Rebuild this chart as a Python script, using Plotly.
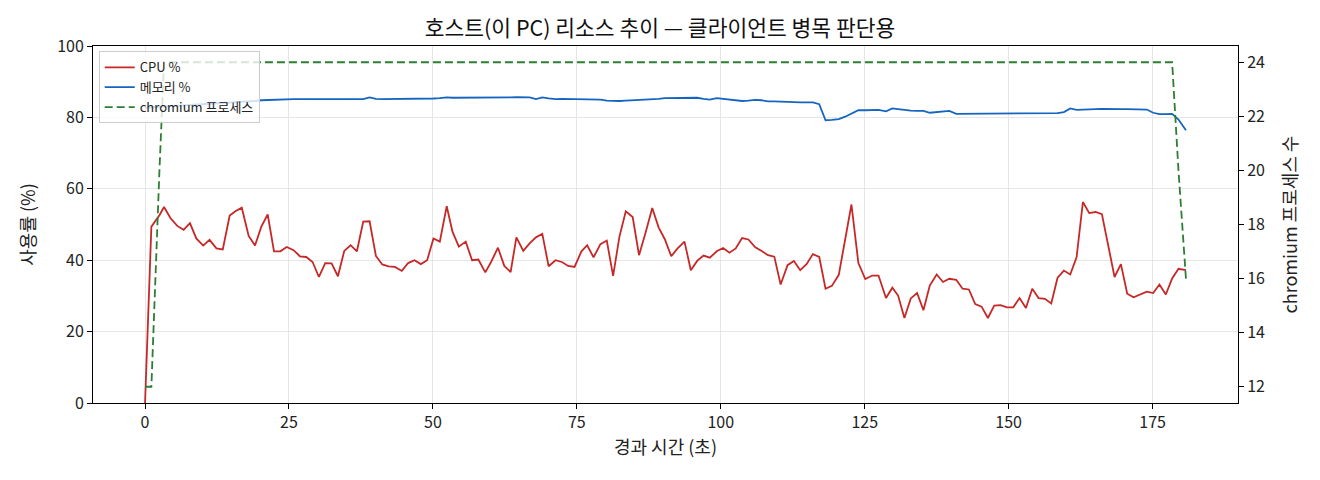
import plotly.graph_objects as go

# elapsed time (s)
t_sec = [0.0, 1.1, 2.5, 3.3, 4.4, 5.6, 6.7, 7.8, 8.9, 10.1, 11.2, 12.4, 13.5, 14.7, 15.7, 16.8,
         18.0, 19.1, 20.2, 21.3, 22.4, 23.5, 24.6, 25.8, 26.9, 28.0, 29.1, 30.2, 31.3, 32.4,
         33.5, 34.6, 35.7, 36.8, 37.9, 39.0, 40.1, 41.2, 42.3, 43.4, 44.6, 45.7, 46.8, 47.9,
         49.0, 50.1, 51.2, 52.4, 53.4, 54.5, 55.7, 56.8, 57.9, 59.1, 60.1, 61.3, 62.4, 63.5,
         64.5, 65.7, 66.8, 67.9, 69.0, 70.1, 71.3, 72.4, 73.5, 74.6, 75.8, 76.8, 77.9, 79.1,
         80.2, 81.3, 82.4, 83.5, 84.7, 85.8, 86.9, 88.1, 89.2, 90.3, 91.4, 92.5, 93.7, 94.8,
         95.9, 97.0, 98.1, 99.3, 100.4, 101.5, 102.6, 103.7, 104.8, 106.0, 107.1, 108.2, 109.3,
         110.4, 111.6, 112.7, 113.8, 114.9, 116.0, 117.1, 118.2, 119.3, 120.5, 121.6, 122.7,
         123.9, 125.1, 126.3, 127.4, 128.7, 129.8, 130.8, 131.9, 133.0, 134.1, 135.2, 136.3,
         137.5, 138.6, 139.7, 140.9, 142.0, 143.1, 144.2, 145.3, 146.4, 147.5, 148.6, 149.7,
         150.8, 151.9, 153.0, 154.1, 155.2, 156.3, 157.4, 158.5, 159.6, 160.7, 161.8, 162.9,
         164.0, 165.1, 166.2, 167.3, 168.4, 169.5, 170.6, 171.7, 172.9, 174.0, 175.1, 176.2,
         177.3, 178.4, 179.5, 180.8]

cpu = [0.0, 49.4, 52.6, 54.9, 51.8, 49.6, 48.5, 50.4, 46.1, 44.1, 45.7, 43.3, 43.0, 52.5, 53.7, 54.7,
       46.8, 44.1, 49.4, 52.8, 42.5, 42.5, 43.7, 42.8, 41.1, 40.9, 39.5, 35.3, 39.2, 39.1,
       35.5, 42.6, 44.2, 42.5, 50.8, 50.9, 41.2, 38.8, 38.3, 38.1, 37.0, 39.2, 40.0, 38.9,
       40.0, 46.1, 45.2, 55.1, 48.0, 43.8, 45.2, 40.0, 40.2, 36.6, 39.5, 43.5, 38.4, 36.7,
       46.4, 42.6, 44.7, 46.4, 47.4, 38.3, 40.0, 39.5, 38.4, 38.1, 42.5, 44.2, 40.8, 44.5,
       45.5, 35.6, 46.6, 53.7, 52.1, 41.4, 47.5, 54.6, 49.2, 45.8, 41.1, 43.3, 45.2, 37.2,
       39.8, 41.3, 40.7, 42.5, 43.4, 42.1, 43.3, 46.2, 45.8, 43.6, 42.6, 41.4, 41.0,
       33.2, 38.6, 39.8, 37.2, 38.9, 41.7, 40.9, 32.0, 32.8, 35.9, 46.1, 55.6,
       39.2, 34.7, 35.7, 35.7, 29.4, 32.3, 30.1, 23.8, 29.3, 30.8, 26.0, 32.9,
       36.0, 33.9, 34.8, 34.5, 32.0, 31.8, 27.7, 27.0, 23.8, 27.3, 27.4, 26.8,
       26.8, 29.4, 26.6, 32.0, 29.4, 29.2, 27.9, 35.1, 37.1, 36.0, 40.8, 56.3,
       53.2, 53.5, 52.9, 43.8, 35.3, 38.9, 30.6, 29.6, 30.4, 31.2, 30.8, 33.2,
       30.4, 34.9, 37.6, 37.2]

mem = [82.7, 82.8, 82.9, 83.0, 83.1, 83.2, 83.3, 83.4, 83.6, 83.6, 83.7, 83.8, 83.9, 84.0, 84.1, 84.3,
       84.4, 84.6, 84.8, 84.9, 85.0, 85.0, 85.1, 85.1, 85.1, 85.1, 85.1, 85.1, 85.0, 85.0,
       84.9, 85.0, 85.1, 85.1, 85.1, 85.6, 85.2, 85.1, 85.1, 85.1, 85.1, 85.1, 85.1, 85.2,
       85.2, 85.3, 85.4, 85.6, 85.5, 85.5, 85.5, 85.5, 85.5, 85.4, 85.4, 85.5, 85.5, 85.6,
       85.7, 85.6, 85.6, 85.1, 85.6, 85.3, 85.1, 85.2, 85.2, 85.2, 85.2, 85.1, 85.0, 85.0,
       84.7, 84.6, 84.6, 84.7, 84.8, 84.8, 84.8, 84.9, 85.2, 85.4, 85.4, 85.5, 85.5, 85.5,
       85.5, 85.2, 85.0, 85.4, 85.2, 84.8, 84.7, 84.6, 84.7, 84.9, 84.8, 84.5, 84.5,
       84.5, 84.3, 84.3, 84.2, 84.2, 84.2, 83.7, 79.2, 79.3, 79.5, 80.2, 81.1,
       82.0, 82.0, 82.1, 82.1, 81.7, 82.5, 82.3, 82.0, 81.9, 81.8, 81.8, 81.3,
       81.5, 81.8, 81.8, 81.0, 81.0, 81.0, 81.0, 81.1, 81.2, 81.1, 81.1, 81.1,
       81.1, 81.1, 81.1, 81.1, 81.2, 81.2, 81.2, 81.2, 81.5, 82.5, 82.1, 82.1,
       82.2, 82.3, 82.4, 82.3, 82.3, 82.3, 82.3, 82.3, 82.2, 82.2, 81.3, 80.9,
       80.9, 81.0, 79.4, 76.4]

# chromium process count: 12 at start, 24 for the whole run, dropping at the end
chromium = [12, 12, 20] + [24] * 158 + [20, 16]

FONT = "Noto Sans CJK KR"

fig = go.Figure()
fig.add_trace(go.Scatter(x=t_sec, y=cpu, name="CPU %", mode="lines",
                         line=dict(color="#c62828", width=1.8)))
fig.add_trace(go.Scatter(x=t_sec, y=mem, name="메모리 %", mode="lines",
                         line=dict(color="#1565c0", width=1.8)))
fig.add_trace(go.Scatter(x=t_sec, y=chromium, name="chromium 프로세스", mode="lines",
                         yaxis="y2", line=dict(color="#2e7d32", width=1.8, dash="8px,4px")))

axis_common = dict(showline=True, linecolor="black", linewidth=1, ticks="outside",
                   ticklen=5, tickcolor="black", tickfont=dict(size=16, color="#222"),
                   zeroline=False)

fig.update_layout(
    width=1320, height=480,
    paper_bgcolor="white", plot_bgcolor="white",
    font=dict(family=FONT, size=16, color="#222"),
    margin=dict(l=93, r=82, t=46, b=77),
    title=dict(text="호스트(이 PC) 리소스 추이 — 클라이언트 병목 판단용", x=0.5, xanchor="center",
               y=1 - 28 / 480, yanchor="middle", font=dict(size=21.5, color="#111")),
    xaxis=dict(range=[-9.04, 189.84], tickvals=[0, 25, 50, 75, 100, 125, 150, 175],
               mirror=True, showgrid=True, gridcolor="#e6e6e6",
               title=dict(text="경과 시간 (초)", font=dict(size=18), standoff=9), **axis_common),
    yaxis=dict(range=[0, 100], tickvals=[0, 20, 40, 60, 80, 100], showgrid=True, gridcolor="#e6e6e6",
               title=dict(text="사용률 (%)", font=dict(size=18), standoff=16), **axis_common),
    yaxis2=dict(range=[11.4, 24.6], tickvals=[12, 14, 16, 18, 20, 22, 24], overlaying="y", side="right",
                showgrid=False,
                title=dict(text="chromium 프로세스 수", font=dict(size=18), standoff=20), **axis_common),
    legend=dict(x=0.005, y=0.985, xanchor="left", yanchor="top", bgcolor="rgba(255,255,255,0.8)",
                bordercolor="#cccccc", borderwidth=1, font=dict(size=13), tracegroupgap=0),
    showlegend=True,
)

fig.write_html("out.html", config={"displayModeBar": False},
               post_script="document.body.style.margin='0';")
